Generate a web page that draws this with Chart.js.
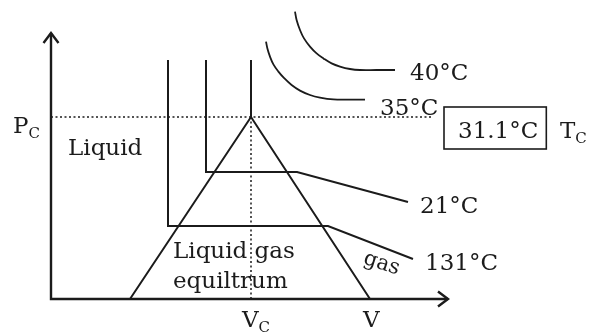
<!DOCTYPE html>
<html lang="en">
<head>
<meta charset="UTF-8">
<title>Isotherms of CO2</title>
<script src="https://cdn.jsdelivr.net/npm/chart.js"></script>
<style>
  html, body { margin: 0; padding: 0; background: #fff; }
</style>
</head>
<body>
<canvas id="pvChart" width="590" height="335"></canvas>
<script>
// Volume on x, pressure on y, both in arbitrary units (V_C = 10, P_C = 9.1)
const VC = 10;
const PC = 9.1;

const axes = [[0, 13.3], [0, 0], [19.85, 0]];
const dome = [[3.95, 0], [VC, PC], [15.95, 0]];
const critP = [[0, PC], [19.1, PC]];
const critV = [[VC, PC], [VC, 0]];

const iso311 = [[10, 11.95], [VC, PC]];
const iso21 = [[7.75, 11.95], [7.75, 6.35], [12.3, 6.35], [17.85, 4.85]];
const iso131 = [[5.85, 11.95], [5.85, 3.65], [13.85, 3.65], [18.1, 2.0]];
const iso40 = [[12.2, 14.37], [12.28, 13.95], [12.45, 13.45], [12.65, 13.03], [12.95, 12.62], [13.28, 12.28],
  [13.62, 12.03], [14.03, 11.78], [14.45, 11.62], [14.95, 11.5], [15.45, 11.45], [16.28, 11.45], [17.2, 11.45]];
const iso35 = [[10.75, 12.87], [10.82, 12.53], [10.95, 12.12], [11.12, 11.73], [11.37, 11.37], [11.67, 11.03],
  [12.03, 10.7], [12.45, 10.42], [12.95, 10.2], [13.45, 10.07], [14.12, 9.98], [14.95, 9.97], [15.7, 9.97]];

// text labels: [text, subscript, x, y (baseline), boxed]
const labels = [
  ['40°C', '', 17.95, 10.95, false],
  ['35°C', '', 16.45, 9.2, false],
  ['31.1°C', '', 20.35, 8.05, true],
  ['T', 'C', 25.45, 8.05, false],
  ['P', 'C', -1.9, 8.3, false],
  ['Liquid', '', 0.85, 7.2, false],
  ['Liquid gas', '', 6.1, 2.05, false],
  ['equiltrum', '', 6.1, 0.55, false],
  ['21°C', '', 18.45, 4.3, false],
  ['131°C', '', 18.7, 1.45, false],
  ['V', 'C', 9.55, -1.4, false],
  ['V', '', 15.6, -1.4, false]
];
const gasLabel = ['gas', 16.45, 1.5, 18];

const ink = '#1b1b1b';
const font = '"DejaVu Serif", serif';

function pts(arr) {
  return arr.map(p => ({ x: p[0], y: p[1] }));
}

function line(arr, opts) {
  return Object.assign({
    data: pts(arr),
    showLine: true,
    borderColor: ink,
    borderWidth: 2,
    pointRadius: 0,
    tension: 0,
    fill: false
  }, opts || {});
}

const curve = { tension: 0.4, borderWidth: 1.8 };

const decor = {
  id: 'decor',
  afterDatasetsDraw(chart) {
    const ctx = chart.ctx;
    const xs = chart.scales.x, ys = chart.scales.y;
    const px = v => xs.getPixelForValue(v);
    const py = v => ys.getPixelForValue(v);
    ctx.save();
    ctx.strokeStyle = ink;
    ctx.fillStyle = ink;
    ctx.lineWidth = 2.4;

    // arrow heads
    const top = axes[0], right = axes[2];
    ctx.beginPath();
    ctx.moveTo(px(top[0]) - 7.5, py(top[1]) + 10);
    ctx.lineTo(px(top[0]), py(top[1]));
    ctx.lineTo(px(top[0]) + 7.5, py(top[1]) + 10);
    ctx.moveTo(px(right[0]) - 10, py(right[1]) - 7.5);
    ctx.lineTo(px(right[0]), py(right[1]));
    ctx.lineTo(px(right[0]) - 10, py(right[1]) + 7.5);
    ctx.stroke();

    ctx.textBaseline = 'alphabetic';
    ctx.textAlign = 'left';
    labels.forEach(([t, sub, x, y, boxed]) => {
      const X = px(x), Y = py(y);
      ctx.font = '23px ' + font;
      ctx.fillText(t, X, Y);
      const w = ctx.measureText(t).width;
      if (sub) {
        ctx.font = '15px ' + font;
        ctx.fillText(sub, X + w, Y + 5);
      }
      if (boxed) {
        ctx.lineWidth = 1.6;
        ctx.strokeRect(X - 14, Y - 31, w + 22, 42);
      }
    });

    // rotated "gas" along the gas-side isotherm
    ctx.save();
    ctx.translate(px(gasLabel[1]), py(gasLabel[2]));
    ctx.rotate(gasLabel[3] * Math.PI / 180);
    ctx.font = '21px ' + font;
    ctx.textAlign = 'center';
    ctx.fillText(gasLabel[0], 0, 0);
    ctx.restore();
    ctx.restore();
  }
};

new Chart(document.getElementById('pvChart'), {
  type: 'scatter',
  data: {
    datasets: [
      line(axes, { borderWidth: 2.4 }),
      line(dome),
      line(critP, { borderWidth: 1.5, borderDash: [2, 2.5] }),
      line(critV, { borderWidth: 1.5, borderDash: [2, 2.5] }),
      line(iso311),
      line(iso21),
      line(iso131),
      line(iso40, curve),
      line(iso35, curve)
    ]
  },
  options: {
    responsive: false,
    animation: false,
    devicePixelRatio: 1,
    layout: { padding: 0 },
    plugins: { legend: { display: false }, tooltip: { enabled: false } },
    scales: {
      x: { type: 'linear', display: false, min: -2.55, max: 26.95 },
      y: { type: 'linear', display: false, min: -1.8, max: 14.95 }
    }
  },
  plugins: [decor]
});
</script>
</body>
</html>
